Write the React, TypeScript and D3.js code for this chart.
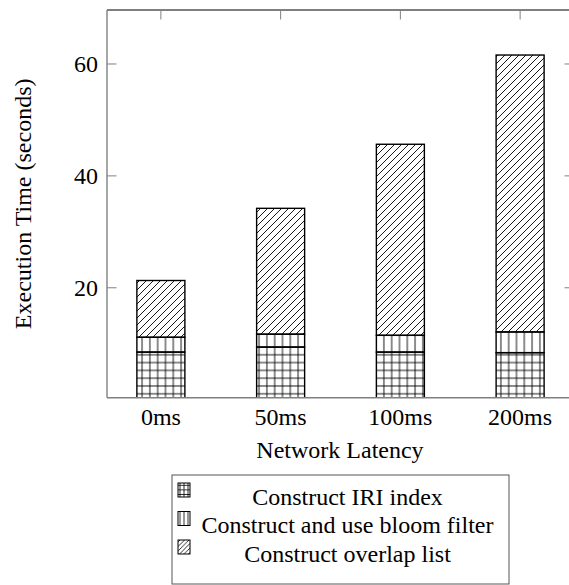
import React from "react";
import * as d3 from "d3";

const categories = ["0ms", "50ms", "100ms", "200ms"];
const iriIndex = [8.5, 9.4, 8.5, 8.4];
const bloomFilter = [2.65, 2.3, 3.0, 3.7];
const overlapList = [10.15, 22.5, 34.15, 49.5];
const seriesKeys = ["iri", "bloom", "overlap"];
const seriesNames = ["Construct IRI index", "Construct and use bloom filter", "Construct overlap list"];
const seriesPatterns = ["pGrid", "pVert", "pDiag"];
const legendPatterns = ["lGrid", "lVert", "lDiag"];
const yTicks = [20, 40, 60];
const xTitle = "Network Latency";
const yTitle = "Execution Time (seconds)";

const W = 569;
const H = 585;
const L = 107;
const R = 574;
const T = 10;
const B = 397.7;
const FONT = "'Liberation Serif', 'Times New Roman', serif";
const GRAY = "#808080";

export default function App() {
  const rows = categories.map((c, i) => ({
    cat: c,
    iri: iriIndex[i],
    bloom: bloomFilter[i],
    overlap: overlapList[i],
  }));
  const stacked = d3.stack<any>().keys(seriesKeys)(rows);
  const x = d3.scalePoint<string>().domain(categories).range([L, R]).padding(0.45);
  const y = d3.scaleLinear().domain([0.35, 69.65]).range([B, T]);
  const barW = 48;

  const legX = 172, legY = 475, legW = 337, legH = 109;
  const baselines = [504.5, 533, 561.5];

  return (
    <svg width={W} height={H} style={{ position: "absolute", left: 0, top: 0, background: "#fff" }}
      fontFamily={FONT}>
      <defs>
        <pattern id="pGrid" patternUnits="userSpaceOnUse" width={7.8} height={7.8} x={L} y={B}>
          <path d="M3.9,0 V7.8 M0,3.9 H7.8" stroke="#000" strokeWidth={0.9} fill="none" />
        </pattern>
        <pattern id="pVert" patternUnits="userSpaceOnUse" width={7.8} height={7.8} x={L}>
          <path d="M3.9,0 V7.8" stroke="#000" strokeWidth={0.9} fill="none" />
        </pattern>
        <pattern id="pDiag" patternUnits="userSpaceOnUse" width={7} height={7}>
          <path d="M0,7 L7,0 M-1,1 L1,-1 M6,8 L8,6" stroke="#000" strokeWidth={0.9} fill="none" />
        </pattern>
        <pattern id="lGrid" patternUnits="userSpaceOnUse" width={4} height={4.6} x={178} y={0}>
          <path d="M2,0 V4.6 M0,2.3 H4" stroke="#000" strokeWidth={0.8} fill="none" />
        </pattern>
        <pattern id="lVert" patternUnits="userSpaceOnUse" width={4} height={4} x={178}>
          <path d="M2,0 V4" stroke="#000" strokeWidth={0.8} fill="none" />
        </pattern>
        <pattern id="lDiag" patternUnits="userSpaceOnUse" width={4.5} height={4.5}>
          <path d="M0,4.5 L4.5,0 M-1,1 L1,-1 M3.5,5.5 L5.5,3.5" stroke="#000" strokeWidth={0.8} fill="none" />
        </pattern>
        <clipPath id="plotClip">
          <rect x={L} y={T} width={R - L} height={B - T} />
        </clipPath>
      </defs>

      {/* bars */}
      <g clipPath="url(#plotClip)">
        {stacked.map((s, si) =>
          s.map((d, i) => {
            const cx = x(categories[i])!;
            const y0 = y(d[0]);
            const y1 = y(d[1]);
            return (
              <rect key={si + "-" + i} x={cx - barW / 2} y={y1} width={barW} height={y0 - y1}
                fill={`url(#${seriesPatterns[si]})`} stroke="#000" strokeWidth={1.4} />
            );
          })
        )}
      </g>

      {/* axes */}
      <line x1={L} x2={R} y1={T} y2={T} stroke="#000" strokeWidth={1} />
      <line x1={L} x2={L} y1={T} y2={B} stroke={GRAY} strokeWidth={1.4} />
      <line x1={R} x2={R} y1={T} y2={B} stroke={GRAY} strokeWidth={1.4} />
      <line x1={L} x2={R} y1={B} y2={B} stroke={GRAY} strokeWidth={1.4} />

      {yTicks.map((t) => (
        <g key={t}>
          <line x1={L} x2={L + 9.5} y1={y(t)} y2={y(t)} stroke={GRAY} strokeWidth={1} />
          <line x1={R} x2={R - 9.5} y1={y(t)} y2={y(t)} stroke={GRAY} strokeWidth={1} />
          <text x={98} y={y(t) + 8} fontSize={24} textAnchor="end" fill="#000">{t}</text>
        </g>
      ))}
      {categories.map((c) => (
        <g key={c}>
          <line x1={x(c)!} x2={x(c)!} y1={T} y2={T + 9.5} stroke={GRAY} strokeWidth={1} />
          <text x={x(c)!} y={425} fontSize={24} textAnchor="middle" fill="#000">{c}</text>
        </g>
      ))}

      <text x={340} y={458} fontSize={24} textAnchor="middle" fill="#000">{xTitle}</text>
      <text transform={`translate(30.5, ${(T + B) / 2}) rotate(-90)`} fontSize={24} textAnchor="middle" fill="#000">
        {yTitle}
      </text>

      {/* legend */}
      <rect x={legX} y={legY} width={legW} height={legH} fill="#fff" stroke="#555" strokeWidth={1} />
      {seriesNames.map((n, i) => (
        <g key={n}>
          <rect x={178} y={baselines[i] - 21.5} width={12} height={14}
            fill={`url(#${legendPatterns[i]})`} stroke="#000" strokeWidth={1} />
          <text x={347.5} y={baselines[i]} fontSize={24} textAnchor="middle" fill="#000">{n}</text>
        </g>
      ))}
    </svg>
  );
}
